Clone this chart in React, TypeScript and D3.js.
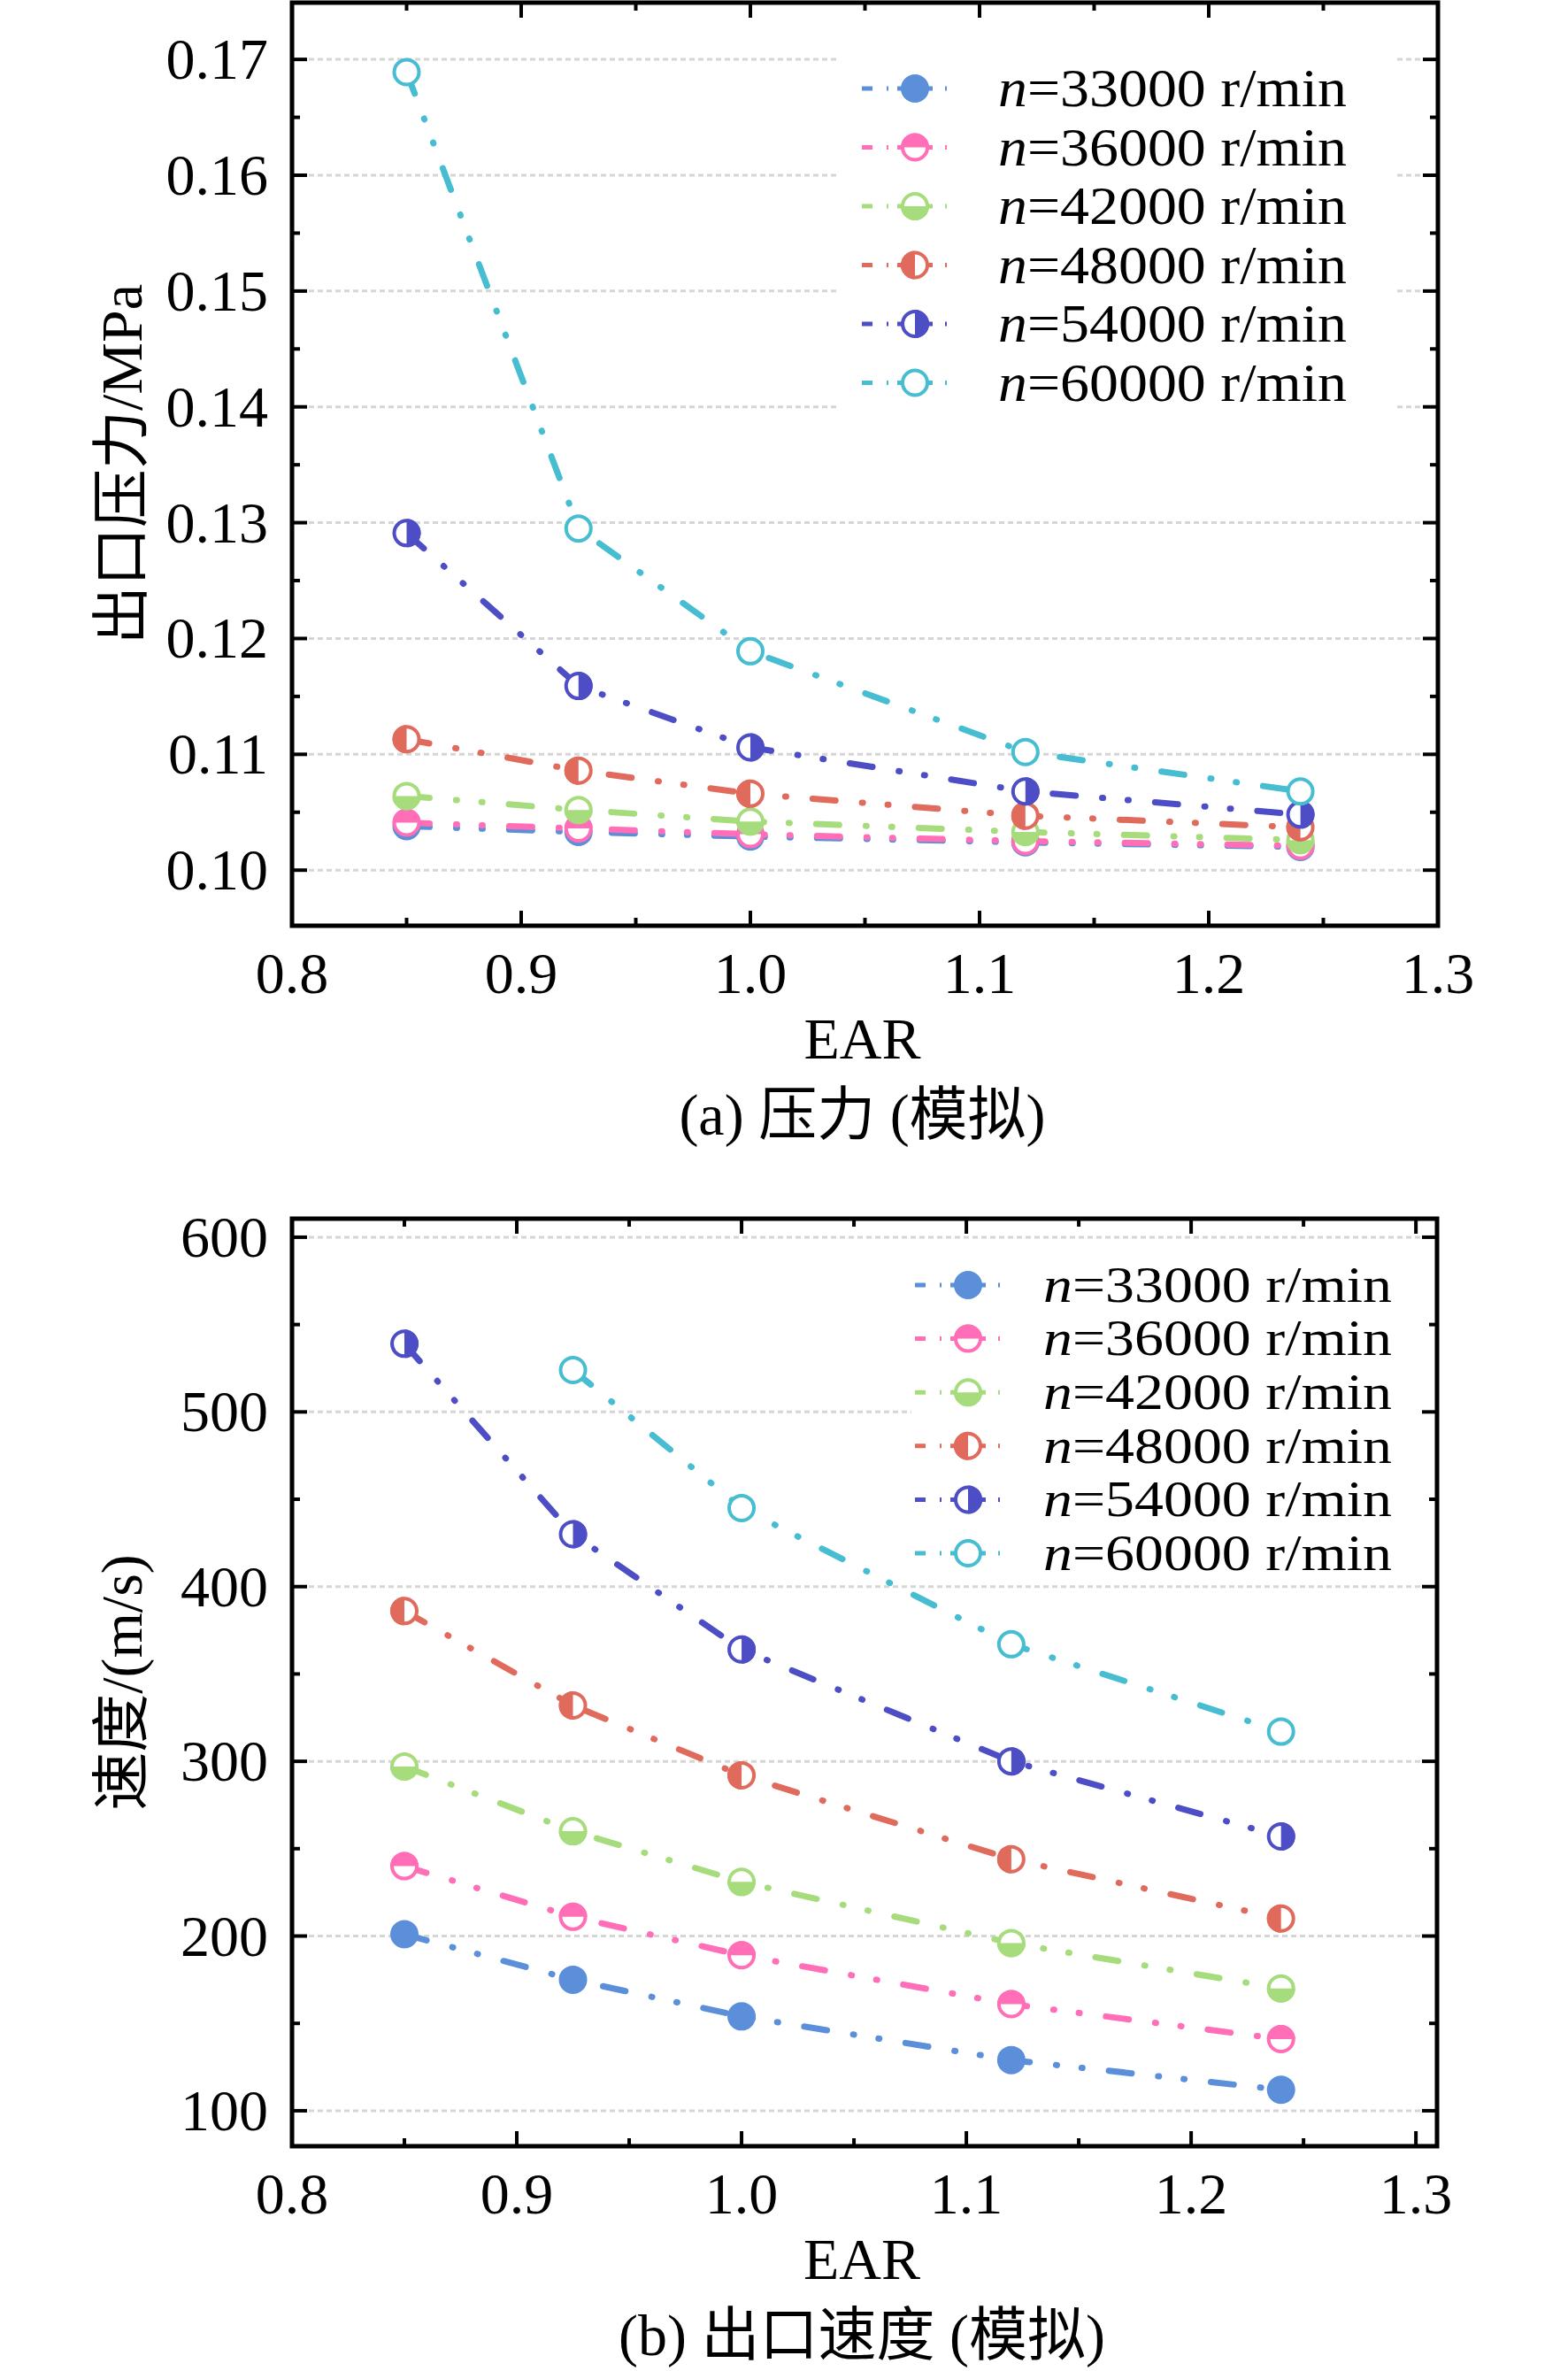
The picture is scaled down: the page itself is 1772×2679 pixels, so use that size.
import React from "react";
import * as d3 from "d3";

// EAR values on the x axis
const ear = [0.85, 0.925, 1.0, 1.12, 1.24];
const speeds = [33000, 36000, 42000, 48000, 54000, 60000];
const colors = ["#5b8fd9", "#ff6eb6", "#a6dc7c", "#e06a5b", "#4d4dc6", "#46bdd0"];
// marker fill: full, top, bottom, left, right, none
const fills = ["full", "top", "bottom", "left", "right", "none"];

// (a) outlet pressure, MPa
const p33000 = [0.1038, 0.1033, 0.1029, 0.1024, 0.102];
const p36000 = [0.1041, 0.1036, 0.1031, 0.1025, 0.1021];
const p42000 = [0.1064, 0.1052, 0.1042, 0.1033, 0.1026];
const p48000 = [0.1113, 0.1086, 0.1066, 0.1047, 0.1037];
const p54000 = [0.1291, 0.1159, 0.1106, 0.1068, 0.1048];
const p60000 = [0.1689, 0.1295, 0.1189, 0.1102, 0.1068];

// (b) outlet velocity, m/s
const v33000 = [201, 175, 154, 129, 112];
const v36000 = [240, 211, 189, 161, 141];
const v42000 = [297, 260, 231, 196, 170];
const v48000 = [386, 332, 292, 244, 210];
const v54000 = [539, 430, 364, 300, 257];
const v60000 = [null, 524, 445, 367, 317];

const pressureTicks = [0.1, 0.11, 0.12, 0.13, 0.14, 0.15, 0.16, 0.17];
const velocityTicks = [100, 200, 300, 400, 500, 600];
const earTicks = [0.8, 0.9, 1.0, 1.1, 1.2, 1.3];

const FONT = "'Liberation Serif', 'Times New Roman', 'Noto Sans CJK SC', serif";
const FS = 66;

type Series = (number | null)[];

const Marker = ({ x, y, color, fill, r = 16 }: any) => {
  let half = "";
  if (fill === "top") half = `M${-r},0A${r},${r} 0 0 1 ${r},0Z`;
  if (fill === "bottom") half = `M${-r},0A${r},${r} 0 0 0 ${r},0Z`;
  if (fill === "left") half = `M0,${-r}A${r},${r} 0 0 0 0,${r}Z`;
  if (fill === "right") half = `M0,${-r}A${r},${r} 0 0 1 0,${r}Z`;
  return (
    <g transform={`translate(${x},${y})`}>
      <circle r={r - 2} fill={fill === "full" ? color : "white"} stroke={color} strokeWidth={4} />
      {half && <path d={half} fill={color} />}
    </g>
  );
};

const DASH = "26 30 1 28 1 30";

interface PanelProps {
  x0: number; x1: number; y0: number; y1: number;
  xDomain: [number, number];
  yDomain: [number, number];
  yTicks: number[];
  yMinorStep: number;
  yFormat: (v: number) => string;
  series: Series[];
  yTitle: string;
  caption: string;
  legend: { x: number; y: number; step: number; fs: number; tx: number; box: [number, number, number, number] };
}

const Panel = (p: PanelProps) => {
  const x = d3.scaleLinear().domain(p.xDomain).range([p.x0, p.x1]);
  const y = d3.scaleLinear().domain(p.yDomain).range([p.y1, p.y0]);
  const xMinor = d3.range(0.85, p.xDomain[1], 0.1);
  const yMinor = p.yTicks.map((t) => t + p.yMinorStep).filter((t) => t < p.yDomain[1]);
  const line = d3
    .line<number | null>()
    .defined((d) => d != null)
    .x((_, i) => x(ear[i]))
    .y((d) => y(d as number));
  const maj = 17;
  const mn = 9;
  const [lx0, ly0, lx1, ly1] = p.legend.box;
  return (
    <g fontFamily={FONT} fontSize={FS} fill="black">
      {/* grid */}
      {p.yTicks.map((t) => (
        <line key={"g" + t} x1={p.x0 + 19} x2={p.x1 - 19} y1={y(t)} y2={y(t)} stroke="#d6d6d6" strokeWidth={3} strokeDasharray="6 4" />
      ))}
      <rect x={lx0} y={ly0} width={lx1 - lx0} height={ly1 - ly0} fill="white" />
      {/* series */}
      {p.series.map((s, k) => (
        <path key={"l" + k} d={line(s) || ""} fill="none" stroke={colors[k]} strokeWidth={7} strokeLinecap="round" strokeDasharray={DASH} />
      ))}
      {p.series.map((s, k) =>
        s.map((v, i) =>
          v == null ? null : <Marker key={`m${k}-${i}`} x={x(ear[i])} y={y(v)} color={colors[k]} fill={fills[k]} />
        )
      )}
      {/* legend */}
      {speeds.map((sp, k) => {
        const ly = p.legend.y + k * p.legend.step;
        return (
          <g key={"lg" + sp}>
            <line x1={p.legend.x} x2={p.legend.x + 127} y1={ly} y2={ly} stroke={colors[k]} strokeWidth={5} strokeDasharray="12 16 2 10 40 14 2 100" strokeLinecap="butt" />
            <Marker x={p.legend.x + 60} y={ly} color={colors[k]} fill={fills[k]} />
            <text x={p.legend.tx} y={ly + p.legend.fs * 0.33} fontSize={p.legend.fs} textLength={394} lengthAdjust="spacingAndGlyphs">
              <tspan fontStyle="italic">n</tspan>={sp} r/min
            </text>
          </g>
        );
      })}
      {/* frame */}
      <rect x={p.x0} y={p.y0} width={p.x1 - p.x0} height={p.y1 - p.y0} fill="none" stroke="black" strokeWidth={5} />
      {/* x ticks */}
      {earTicks.map((t) => (
        <g key={"xt" + t}>
          <line x1={x(t)} x2={x(t)} y1={p.y1} y2={p.y1 - maj} stroke="black" strokeWidth={4} />
          <line x1={x(t)} x2={x(t)} y1={p.y0} y2={p.y0 + maj} stroke="black" strokeWidth={4} />
          <text x={x(t)} y={p.y1 + 76} textAnchor="middle">{d3.format(".1f")(t)}</text>
        </g>
      ))}
      {xMinor.map((t) => (
        <g key={"xm" + t}>
          <line x1={x(t)} x2={x(t)} y1={p.y1} y2={p.y1 - mn} stroke="black" strokeWidth={4} />
          <line x1={x(t)} x2={x(t)} y1={p.y0} y2={p.y0 + mn} stroke="black" strokeWidth={4} />
        </g>
      ))}
      {/* y ticks */}
      {p.yTicks.map((t) => (
        <g key={"yt" + t}>
          <line x1={p.x0} x2={p.x0 + maj} y1={y(t)} y2={y(t)} stroke="black" strokeWidth={4} />
          <line x1={p.x1} x2={p.x1 - maj} y1={y(t)} y2={y(t)} stroke="black" strokeWidth={4} />
          <text x={p.x0 - 27} y={y(t) + 22} textAnchor="end">{p.yFormat(t)}</text>
        </g>
      ))}
      {yMinor.map((t) => (
        <g key={"ym" + t}>
          <line x1={p.x0} x2={p.x0 + mn} y1={y(t)} y2={y(t)} stroke="black" strokeWidth={4} />
          <line x1={p.x1} x2={p.x1 - mn} y1={y(t)} y2={y(t)} stroke="black" strokeWidth={4} />
        </g>
      ))}
      {/* titles */}
      <text x={(p.x0 + p.x1) / 2 - 3} y={p.y1 + 150} textAnchor="middle">EAR</text>
      <text x={(p.x0 + p.x1) / 2 - 3} y={p.y1 + 236} textAnchor="middle">{p.caption}</text>
      <text
        transform={`translate(${160},${(p.y0 + p.y1) / 2}) rotate(-90)`}
        textAnchor="middle"
      >
        {p.yTitle}
      </text>
    </g>
  );
};

const App = () => {
  return (
    <svg width={1772} height={2679} style={{ position: "absolute", left: 0, top: 0, background: "white" }}>
      <rect width={1772} height={2679} fill="white" />
      <Panel
        x0={330} x1={1625} y0={3} y1={1046}
        xDomain={[0.8, 1.3]}
        yDomain={[0.0952, 0.1749]}
        yTicks={pressureTicks}
        yMinorStep={0.005}
        yFormat={d3.format(".2f")}
        series={[p33000, p36000, p42000, p48000, p54000, p60000]}
        yTitle="出口压力/MPa"
        caption="(a) 压力 (模拟)"
        legend={{ x: 974, y: 100, step: 66.5, fs: 62, tx: 1128, box: [946, 30, 1578, 482] }}
      />
      <Panel
        x0={330} x1={1624} y0={1377} y1={2425}
        xDomain={[0.8, 1.3094]}
        yDomain={[79.7, 610.6]}
        yTicks={velocityTicks}
        yMinorStep={50}
        yFormat={d3.format("d")}
        series={[v33000, v36000, v42000, v48000, v54000, v60000]}
        yTitle="速度/(m/s)"
        caption="(b) 出口速度 (模拟)"
        legend={{ x: 1034, y: 1452, step: 60.6, fs: 57, tx: 1179, box: [1030, 1408, 1605, 1785] }}
      />
    </svg>
  );
};

export default App;
